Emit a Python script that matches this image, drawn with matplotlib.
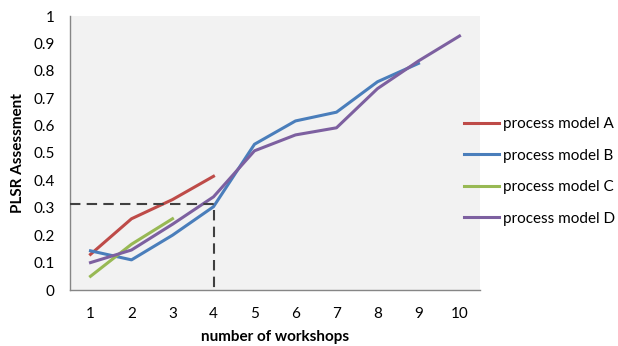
import matplotlib.pyplot as plt

plt.rcParams['font.family'] = ['Lato', 'DejaVu Sans']

# workshop counts and PLSR assessment per process model
workshops = [1, 2, 3, 4, 5, 6, 7, 8, 9, 10]
model_a = [0.13, 0.26, 0.33, 0.415]
model_b = [0.143, 0.11, 0.20, 0.304, 0.532, 0.617, 0.649, 0.76, 0.827]
model_c = [0.05, 0.167, 0.26]
model_d = [0.10, 0.146, 0.24, 0.34, 0.508, 0.566, 0.592, 0.735, 0.836, 0.927]
marker_x = 4
marker_y = 0.314

fig = plt.figure(figsize=(6.18, 3.46), dpi=100)
ax = fig.add_axes([70 / 618, 56 / 346, 410 / 618, 274 / 346])
ax.set_facecolor('#f2f2f2')

lw = 2.2
ax.plot(workshops[:len(model_a)], model_a, color='#be4b48', lw=lw, label='process model A')
ax.plot(workshops[:len(model_b)], model_b, color='#4a7ebb', lw=lw, label='process model B')
ax.plot(workshops[:len(model_c)], model_c, color='#98b954', lw=lw, label='process model C')
ax.plot(workshops[:len(model_d)], model_d, color='#7d60a0', lw=lw, label='process model D')

# dashed guide from the y axis to the 4th workshop and down
ax.plot([0.5, marker_x, marker_x], [marker_y, marker_y, 0], color='#404040',
        lw=1.5, ls=(0, (5, 3)), zorder=3)

ax.set_xlim(0.5, 10.5)
ax.set_ylim(0, 1)
ax.set_xticks(workshops)
ax.set_yticks([i / 10 for i in range(11)])
ax.set_yticklabels(['0'] + ['0.%d' % i for i in range(1, 10)] + ['1'])
ax.tick_params(length=0, labelsize=11, colors='#000000')
ax.tick_params(axis='y', pad=11)
ax.tick_params(axis='x', pad=12)

for side in ['top', 'right']:
    ax.spines[side].set_visible(False)
for side in ['left', 'bottom']:
    ax.spines[side].set_color('#868686')
    ax.spines[side].set_linewidth(1.0)

ax.set_xlabel('number of workshops', fontsize=11, fontweight='bold', labelpad=7)
ax.set_ylabel('PLSR Assessment', fontsize=11, fontweight='bold', labelpad=6)

fig.legend(loc='upper left', bbox_to_anchor=(458 / 618, 1 - 111 / 346), frameon=False,
           fontsize=11, handlelength=2.3, handletextpad=0.25, labelspacing=1.15,
           borderaxespad=0)

fig.savefig('out.png', dpi=100)
